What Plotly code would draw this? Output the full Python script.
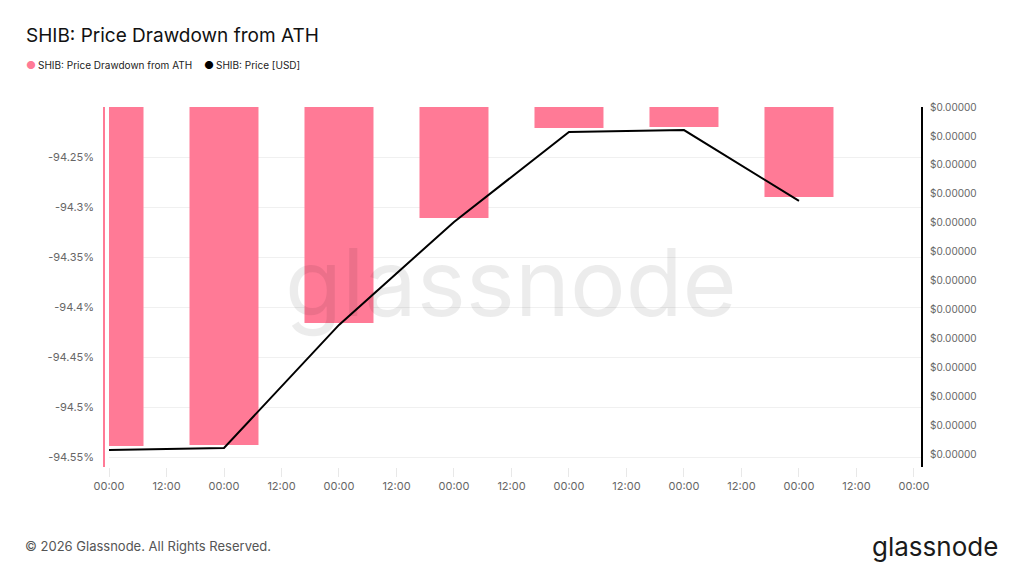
"""
SHIB: Price Drawdown from ATH - bars (drawdown %) with price line on a second axis
"""

import plotly.graph_objs as go

days = ['2026-01-05', '2026-01-06', '2026-01-07', '2026-01-08',
        '2026-01-09', '2026-01-10', '2026-01-11']
drawdown = [-94.539, -94.538, -94.416, -94.311, -94.221, -94.220, -94.290]
price = [0.0000047634, 0.0000047648, 0.0000048497, 0.0000049207,
         0.0000049828, 0.0000049841, 0.0000049352]

dd_ticks = [-94.25, -94.3, -94.35, -94.4, -94.45, -94.5, -94.55]
dd_labels = ['-94.25%', '-94.3%', '-94.35%', '-94.4%', '-94.45%', '-94.5%', '-94.55%']
price_ticks = [0.0000050 - i * 0.00000002 for i in range(13)]
price_labels = ['$0.00000'] * 13

PINK = 'rgb(255,122,150)'
GREY = '#666666'
BAR_TOP = -94.0

# page body has an 8px margin, plot area wanted at x 109..921, y 107..467
PL, PR, PT, PB = 109, 921, 107, 467
OFF = 8


def px(x):
    return (x - PL) / (PR - PL)


def py(y):
    return (PB - y) / (PB - PT)


bars = go.Bar(
    x=days,
    y=[d - BAR_TOP for d in drawdown],
    base=BAR_TOP,
    width=0.6 * 24 * 3600 * 1000,
    marker=dict(color=PINK, line=dict(width=0)),
    name='SHIB: Price Drawdown from ATH',
    customdata=drawdown,
    hovertemplate='%{customdata}%<extra></extra>',
)

line = go.Scatter(
    x=days,
    y=price,
    mode='lines',
    line=dict(color='black', width=2),
    yaxis='y2',
    name='SHIB: Price [USD]',
)

layout = go.Layout(
    width=1024,
    height=576,
    paper_bgcolor='white',
    plot_bgcolor='white',
    margin=dict(l=PL - OFF, r=1024 + OFF - PR, t=PT - OFF, b=576 + OFF - PB),
    font=dict(family='Inter, Roboto, sans-serif', color=GREY, size=11),
    title=dict(text='SHIB: Price Drawdown from ATH', xref='container', yref='container',
               x=(26 - OFF) / 1024, y=1 - (35 - OFF) / 576, xanchor='left', yanchor='middle',
               font=dict(size=19, color='#111111')),
    showlegend=False,
    xaxis=dict(
        type='date',
        range=['2026-01-05 00:00', '2026-01-12 01:28'],
        dtick=12 * 3600 * 1000,
        tick0='2026-01-05 00:00',
        tickformat='%H:%M',
        showgrid=False,
        showline=False,
        zeroline=False,
        ticks='outside',
        ticklen=9,
        tickcolor='#e8e8e8',
        tickfont=dict(size=11, color=GREY),
    ),
    yaxis=dict(
        range=[-94.56, -94.2],
        tickvals=dd_ticks,
        ticktext=dd_labels,
        showgrid=True,
        gridcolor='#f0f0f0',
        zeroline=False,
        showline=False,
        ticks='',
        ticklabelstandoff=14,
        tickfont=dict(size=11, color=GREY),
    ),
    yaxis2=dict(
        overlaying='y',
        side='right',
        range=[0.0000047517, 0.0000050],
        tickvals=price_ticks,
        ticktext=price_labels,
        showgrid=False,
        zeroline=False,
        showline=True,
        linecolor='black',
        linewidth=2,
        ticks='',
        ticklabelstandoff=5,
        tickfont=dict(size=10, color=GREY),
    ),
    barmode='overlay',
    shapes=[dict(type='line', xref='paper', yref='paper', x0=px(104), x1=px(104),
                 y0=0, y1=1, line=dict(color=PINK, width=2))],
    annotations=[
        # legend
        dict(text='●', xref='paper', yref='paper', x=px(24), y=py(65),
             xanchor='left', yanchor='middle', showarrow=False,
             font=dict(size=11, color=PINK)),
        dict(text='SHIB: Price Drawdown from ATH', xref='paper', yref='paper', x=px(36), y=py(65),
             xanchor='left', yanchor='middle', showarrow=False,
             font=dict(size=10, color='#222222')),
        dict(text='●', xref='paper', yref='paper', x=px(202), y=py(65),
             xanchor='left', yanchor='middle', showarrow=False,
             font=dict(size=11, color='black')),
        dict(text='SHIB: Price [USD]', xref='paper', yref='paper', x=px(214), y=py(65),
             xanchor='left', yanchor='middle', showarrow=False,
             font=dict(size=10, color='#222222')),
        # watermark
        dict(text='glassnode', xref='paper', yref='paper', x=px(511), y=py(282),
             showarrow=False, font=dict(size=93, color='rgba(0,0,0,0.075)', family='Inter, sans-serif')),
        # footer
        dict(text='© 2026 Glassnode. All Rights Reserved.', xref='paper', yref='paper',
             x=px(23), y=py(546), xanchor='left', yanchor='middle', showarrow=False,
             font=dict(size=13, color='#555555')),
        dict(text='glassnode', xref='paper', yref='paper', x=px(1000), y=py(546),
             xanchor='right', yanchor='middle', showarrow=False,
             font=dict(size=26, color='#1a1a1a', family='Inter, sans-serif')),
    ],
)

fig = go.Figure(data=[bars, line], layout=layout)
fig.write_html('out.html')
